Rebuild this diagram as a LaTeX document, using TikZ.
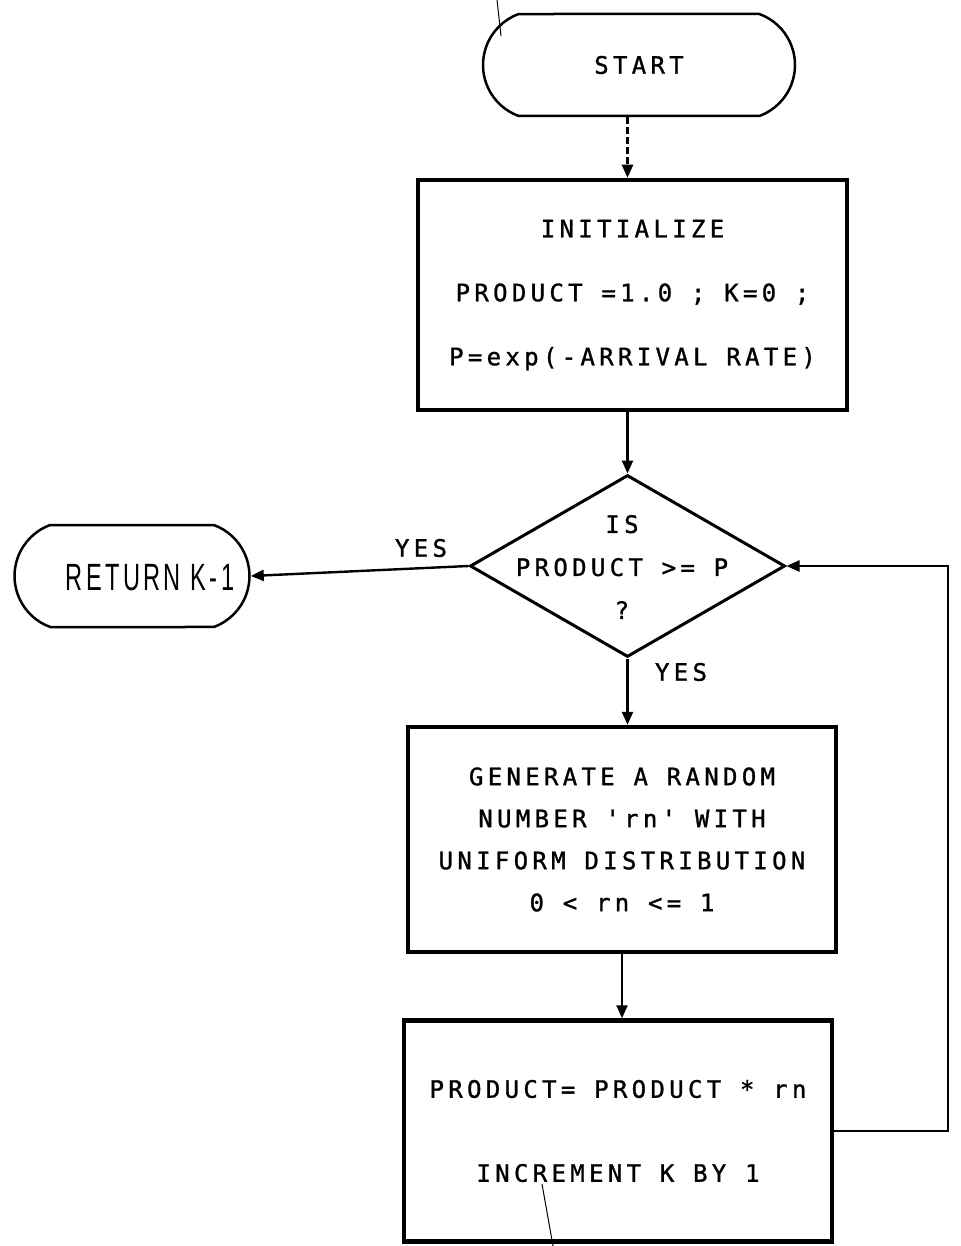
\documentclass[tikz,border=0pt]{standalone}
\usepackage{fontspec}
\usetikzlibrary{shapes.geometric,shapes.misc,arrows.meta}
\newfontfamily\dotfont[LetterSpace=18,FakeBold=1.2]{DejaVu Sans Mono}
\newfontfamily\handfont[FakeStretch=0.62,LetterSpace=9]{Liberation Sans}
\tikzset{
  flow/.style={line width=2.4pt,-{Triangle[length=13pt,width=11pt]}},
  procbox/.style={draw,rectangle,line width=4.5pt,inner sep=0pt},
  term/.style={draw,rounded rectangle,rounded rectangle arc length=140,line width=2.5pt,inner sep=0pt},
  decision/.style={draw,diamond,line width=3pt,inner sep=0pt},
  dot/.style={font=\fontsize{24}{#1}\selectfont\dotfont,align=center,inner sep=0pt},
  hand/.style={font=\fontsize{#1}{#1}\selectfont\handfont,inner sep=0pt},
  stray/.style={line width=1pt}
}
\begin{document}
\begin{tikzpicture}[x=1pt,y=-1pt]
\useasboundingbox (0,0) rectangle (960,1246);

% terminals
\node[term,minimum width=312pt,minimum height=102pt,dot=26] (start) at (639,65) {START};
\node[term,minimum width=235pt,minimum height=102pt] (ret) at (132,576) {};
\node[hand=38] (rettext) at (150,578) {RETURN K-1};

% process boxes
\node[procbox,minimum width=429pt,minimum height=230pt,dot=64] (init) at (632.5,295)
  {INITIALIZE\\PRODUCT =1.0 ; K=0 ;\\P=exp(-ARRIVAL RATE)};
\node[procbox,minimum width=428pt,minimum height=225pt,dot=42] (gen) at (622,839.5)
  {GENERATE A RANDOM\\NUMBER 'rn' WITH\\UNIFORM DISTRIBUTION\\0 < rn <= 1};
\node[procbox,minimum width=428pt,minimum height=221pt,dot=84] (prod) at (618,1131)
  {PRODUCT= PRODUCT * rn\\INCREMENT K BY 1};

% decision
\node[decision,minimum width=315pt,minimum height=182pt] (dec) at (627.5,566) {};
\node[dot=43] (dectext) at (622,567) {IS\\PRODUCT >= P\\?};

% branch labels
\node[dot=24] (yesleft) at (421,548) {YES};
\node[dot=24] (yesdown) at (681,672) {YES};

% connectors
\coordinate (loop) at (948,566);
\draw[flow,dashed,dash pattern=on 7pt off 3pt] (start.south -| dec.north) -- (init.north -| dec.north);
\draw[flow] (init.south -| dec.north) -- (dec.north);
\draw[flow] (dec.west) -- (ret.east);
\draw[flow] (dec.south) -- (dec.south |- gen.north);
\draw[flow] (gen.south) -- (gen.south |- prod.north);
\draw[flow] (prod.east) -| (loop) -- (dec.east);

% pen marks
\draw[stray] (497,0) -- (501,36);
\draw[stray] (542,1184) -- (553,1246);
\end{tikzpicture}
\end{document}
